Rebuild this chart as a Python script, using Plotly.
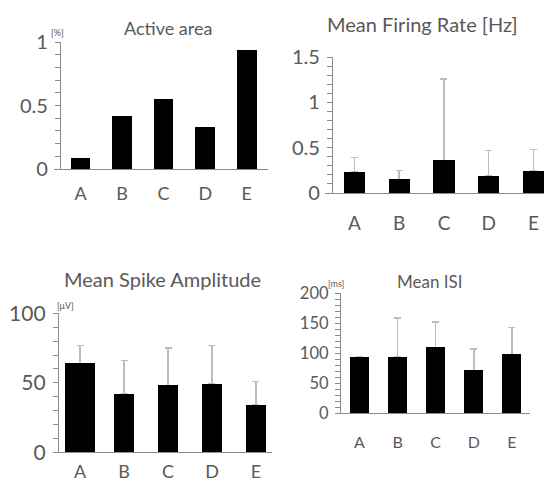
import plotly.graph_objects as go

groups = ["A", "B", "C", "D", "E"]

active_area = [0.09, 0.42, 0.55, 0.33, 0.94]

firing_rate = [0.23, 0.15, 0.36, 0.19, 0.24]
firing_rate_err = [0.16, 0.10, 0.90, 0.28, 0.24]

spike_amp = [64, 42, 48, 49, 34]
spike_amp_err = [13, 24, 27, 28, 17]

isi = [94, 94, 110, 71, 98]
isi_err = [None, 65, 42, 36, 45]

W, H = 544, 486
FONT = "Lato"
TXT = "#595959"
AXC = "#8c8c8c"
ERRC = "#bdbdbd"


def px(x):
    return x / W


def py(y):
    return 1 - y / H


fig = go.Figure()

panels = [
    dict(s="", v=active_area, e=None, xd=(54, 268), yx=60, yb=169, yt=42, ymax=1.0,
         xr=[-0.637, 4.51], mdt=0.1, dt=0.5, bw=0.47, tf=20, cf=18, so=8),
    dict(s="2", v=firing_rate, e=firing_rate_err, xd=(325, 544), yx=332, yb=193, yt=57, ymax=1.5,
         xr=[-0.659, 4.235], mdt=0.1, dt=0.5, bw=0.47, tf=20, cf=19, so=13),
    dict(s="3", v=spike_amp, e=spike_amp_err, xd=(53, 272), yx=58, yb=452.3, yt=313.3, ymax=100,
         xr=[-0.614, 4.364], mdt=10, dt=50, bw=[0.68, 0.47, 0.47, 0.47, 0.47], tf=21, cf=18, so=3),
    dict(s="4", v=isi, e=isi_err, xd=(335, 530), yx=340, yb=413.3, yt=293.3, ymax=200,
         xr=[-0.643, 4.475], mdt=10, dt=50, bw=0.5, tf=16.5, cf=16, so=14),
]

for p in panels:
    xa = "x" + p["s"]
    ya = "y" + p["s"]
    if p["e"] is not None:
        fig.add_trace(go.Bar(
            x=groups, y=p["v"], xaxis=xa, yaxis=ya, width=p["bw"],
            marker=dict(color="rgba(0,0,0,0)", line=dict(width=0)),
            error_y=dict(type="data", symmetric=False, array=p["e"],
                         arrayminus=[0] * len(p["e"]), color=ERRC,
                         thickness=1.5, width=3.5),
            showlegend=False, hoverinfo="skip", cliponaxis=False,
        ))
    fig.add_trace(go.Bar(
        x=groups, y=p["v"], xaxis=xa, yaxis=ya, width=p["bw"],
        marker=dict(color="#000000", line=dict(width=0)),
        showlegend=False,
    ))
    xkey = "xaxis" + p["s"]
    ykey = "yaxis" + p["s"]
    fig.layout[xkey] = dict(
        domain=[px(p["xd"][0]), px(p["xd"][1])],
        anchor=ya, type="category", range=p["xr"], automargin=False,
        showline=True, linecolor=AXC, linewidth=1.3,
        ticks="", showgrid=False, zeroline=False,
        tickfont=dict(family=FONT, size=p["cf"], color=TXT),
        ticklabelstandoff=p["so"], ticklabeloverflow="allow", fixedrange=True,
    )
    fig.layout[ykey] = dict(
        domain=[py(p["yb"]), py(p["yt"])],
        anchor="free", position=px(p["yx"]), automargin=False,
        range=[0, p["ymax"]], dtick=p["dt"], tick0=0,
        showline=True, linecolor=AXC, linewidth=1.3,
        ticks="outside", ticklen=5, tickcolor=AXC, tickwidth=1,
        minor=dict(dtick=p["mdt"], ticks="outside", ticklen=5, tickcolor=AXC, tickwidth=1, showgrid=False),
        showgrid=False, zeroline=False,
        tickfont=dict(family=FONT, size=p["tf"], color=TXT),
        ticklabelstandoff=3, ticklabeloverflow="allow", fixedrange=True,
    )

annos = [
    ("Active area", 168, 28, 18),
    ("Mean Firing Rate [Hz]", 422, 24, 20),
    ("Mean Spike Amplitude", 162, 279, 20),
    ("Mean ISI", 430, 281, 17),
    ("[%]", 57, 32, 9),
    ("[μV]", 65, 305, 9),
    ("[ms]", 336, 283, 9),
]
for t, x, y, s in annos:
    fig.add_annotation(text=t, x=px(x), y=py(y), xref="paper", yref="paper",
                       xanchor="center", yanchor="middle", showarrow=False,
                       font=dict(family=FONT, size=s, color=TXT))

fig.update_layout(
    width=W, height=H, margin=dict(l=0, r=0, t=0, b=0, autoexpand=False),
    paper_bgcolor="white", plot_bgcolor="white",
    barmode="overlay", bargap=0,
    font=dict(family=FONT, color=TXT),
)

fig.write_html(
    "out.html",
    config={"displayModeBar": False},
    post_script="document.body.style.margin='0';document.body.style.overflow='hidden';",
)
